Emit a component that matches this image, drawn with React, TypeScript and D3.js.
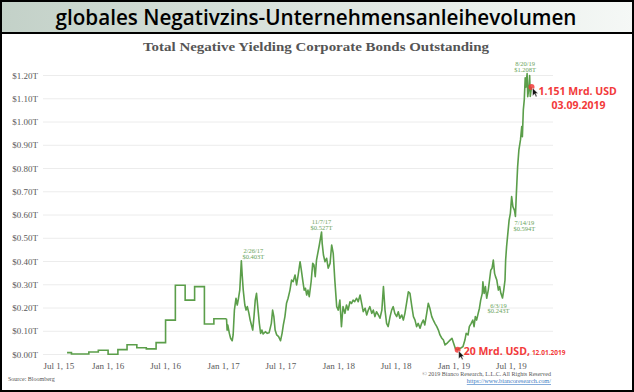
import * as d3 from 'd3'

// monthly steps (early part of the series)
const STEP_SERIES: [string, number][] = [
  ['2015-08-24', 0.008], ['2015-09-07', 0.002], ['2015-11-01', 0.011], ['2015-12-01', 0.018],
  ['2016-01-01', 0.001], ['2016-02-01', 0.021], ['2016-03-01', 0.042], ['2016-04-01', 0.029],
  ['2016-05-01', 0.024], ['2016-06-01', 0.051], ['2016-07-01', 0.148], ['2016-08-01', 0.298],
  ['2016-09-01', 0.234], ['2016-10-01', 0.292], ['2016-11-01', 0.131], ['2016-12-01', 0.154],
  ['2017-01-10', 0.154],
]

// daily-ish part
const DAILY_SERIES: [string, number][] = [
  ['2017-01-10', 0.154], ['2017-01-12', 0.105], ['2017-01-14', 0.127], ['2017-01-19', 0.091],
  ['2017-01-23', 0.070], ['2017-01-28', 0.059], ['2017-01-31', 0.084], ['2017-02-04', 0.191],
  ['2017-02-09', 0.242], ['2017-02-13', 0.213], ['2017-02-17', 0.242], ['2017-02-21', 0.277],
  ['2017-02-26', 0.403], ['2017-03-01', 0.335], ['2017-03-04', 0.277], ['2017-03-09', 0.213],
  ['2017-03-13', 0.191], ['2017-03-17', 0.206], ['2017-03-22', 0.177], ['2017-03-26', 0.148],
  ['2017-03-30', 0.127], ['2017-04-03', 0.105], ['2017-04-07', 0.163], ['2017-04-11', 0.234],
  ['2017-04-15', 0.263], ['2017-04-20', 0.191], ['2017-04-24', 0.134], ['2017-04-28', 0.091],
  ['2017-05-02', 0.105], ['2017-05-06', 0.088], ['2017-05-13', 0.098], ['2017-05-19', 0.091],
  ['2017-05-25', 0.094], ['2017-06-01', 0.134], ['2017-06-05', 0.191], ['2017-06-09', 0.163],
  ['2017-06-13', 0.105], ['2017-06-18', 0.084], ['2017-06-24', 0.077], ['2017-06-30', 0.059],
  ['2017-07-05', 0.091], ['2017-07-09', 0.127], ['2017-07-14', 0.163], ['2017-07-19', 0.220],
  ['2017-07-24', 0.242], ['2017-07-30', 0.277], ['2017-08-04', 0.320], ['2017-08-09', 0.313],
  ['2017-08-15', 0.342], ['2017-08-20', 0.299], ['2017-08-25', 0.342], ['2017-08-31', 0.399],
  ['2017-09-04', 0.363], ['2017-09-09', 0.313], ['2017-09-13', 0.277], ['2017-09-17', 0.285],
  ['2017-09-21', 0.256], ['2017-09-25', 0.277], ['2017-09-29', 0.249], ['2017-10-05', 0.313],
  ['2017-10-10', 0.392], ['2017-10-14', 0.385], ['2017-10-18', 0.335], ['2017-10-22', 0.406],
  ['2017-10-26', 0.435], ['2017-10-31', 0.471], ['2017-11-07', 0.527], ['2017-11-09', 0.478],
  ['2017-11-13', 0.428], ['2017-11-18', 0.399], ['2017-11-23', 0.414], ['2017-11-28', 0.371],
  ['2017-12-04', 0.392], ['2017-12-09', 0.471], ['2017-12-14', 0.435], ['2017-12-19', 0.320],
  ['2017-12-25', 0.206], ['2017-12-30', 0.191], ['2018-01-04', 0.234], ['2018-01-09', 0.120],
  ['2018-01-14', 0.206], ['2018-01-20', 0.177], ['2018-01-25', 0.213], ['2018-01-30', 0.191],
  ['2018-02-05', 0.227], ['2018-02-10', 0.220], ['2018-02-15', 0.234], ['2018-02-20', 0.227],
  ['2018-02-26', 0.242], ['2018-03-03', 0.227], ['2018-03-09', 0.256], ['2018-03-14', 0.220],
  ['2018-03-19', 0.184], ['2018-03-25', 0.199], ['2018-03-30', 0.170], ['2018-04-04', 0.191],
  ['2018-04-09', 0.206], ['2018-04-15', 0.177], ['2018-04-20', 0.191], ['2018-04-25', 0.163],
  ['2018-04-30', 0.184], ['2018-05-06', 0.170], ['2018-05-11', 0.156], ['2018-05-17', 0.191],
  ['2018-05-22', 0.292], ['2018-05-27', 0.191], ['2018-06-01', 0.134], ['2018-06-06', 0.120],
  ['2018-06-12', 0.163], ['2018-06-17', 0.191], ['2018-06-22', 0.206], ['2018-06-27', 0.177],
  ['2018-07-03', 0.163], ['2018-07-08', 0.184], ['2018-07-13', 0.156], ['2018-07-19', 0.170],
  ['2018-07-24', 0.148], ['2018-07-29', 0.177], ['2018-08-04', 0.227], ['2018-08-09', 0.270],
  ['2018-08-14', 0.263], ['2018-08-20', 0.206], ['2018-08-25', 0.163], ['2018-08-30', 0.148],
  ['2018-09-04', 0.120], ['2018-09-09', 0.134], ['2018-09-15', 0.113], ['2018-09-20', 0.134],
  ['2018-09-25', 0.148], ['2018-09-30', 0.127], ['2018-10-06', 0.177], ['2018-10-11', 0.220],
  ['2018-10-16', 0.199], ['2018-10-22', 0.163], ['2018-10-27', 0.148], ['2018-11-01', 0.134],
  ['2018-11-07', 0.120], ['2018-11-12', 0.105], ['2018-11-17', 0.084], ['2018-11-23', 0.070],
  ['2018-11-28', 0.062], ['2018-12-03', 0.041], ['2018-12-09', 0.048], ['2018-12-14', 0.055],
  ['2018-12-19', 0.062], ['2018-12-25', 0.070], ['2019-01-05', 0.025], ['2019-01-12', 0.020],
  ['2019-01-16', 0.025], ['2019-01-22', 0.028], ['2019-01-29', 0.034], ['2019-02-04', 0.062],
  ['2019-02-08', 0.091], ['2019-02-14', 0.084], ['2019-02-18', 0.120], ['2019-02-24', 0.134],
  ['2019-03-01', 0.148], ['2019-03-05', 0.120], ['2019-03-09', 0.163], ['2019-03-13', 0.148],
  ['2019-03-18', 0.177], ['2019-03-22', 0.199], ['2019-03-26', 0.234], ['2019-03-31', 0.263],
  ['2019-04-02', 0.313], ['2019-04-06', 0.263], ['2019-04-10', 0.292], ['2019-04-14', 0.242],
  ['2019-04-19', 0.277], ['2019-04-23', 0.320], ['2019-04-27', 0.363], ['2019-05-01', 0.371],
  ['2019-05-05', 0.406], ['2019-05-09', 0.349], ['2019-05-12', 0.335], ['2019-05-16', 0.320],
  ['2019-05-21', 0.277], ['2019-05-25', 0.292], ['2019-05-29', 0.263], ['2019-06-03', 0.243],
  ['2019-06-07', 0.277], ['2019-06-11', 0.320], ['2019-06-13', 0.406], ['2019-06-16', 0.464],
  ['2019-06-20', 0.521], ['2019-06-24', 0.578], ['2019-06-28', 0.607], ['2019-07-02', 0.679],
  ['2019-07-06', 0.636], ['2019-07-11', 0.620], ['2019-07-14', 0.594], ['2019-07-17', 0.693],
  ['2019-07-21', 0.808], ['2019-07-25', 0.880], ['2019-07-30', 0.923], ['2019-08-03', 0.980],
  ['2019-08-05', 0.937], ['2019-08-08', 1.052], ['2019-08-11', 1.095], ['2019-08-14', 1.190],
  ['2019-08-16', 1.150], ['2019-08-20', 1.208], ['2019-08-22', 1.109], ['2019-08-26', 1.152],
  ['2019-08-28', 1.200], ['2019-08-30', 1.110], ['2019-09-03', 1.151],
]

const X_TICKS = ['2015-07-01', '2016-01-01', '2016-07-01', '2017-01-01', '2017-07-01',
  '2018-01-01', '2018-07-01', '2019-01-01', '2019-07-01']
const Y_TICKS = [0, 0.1, 0.2, 0.3, 0.4, 0.5, 0.6, 0.7, 0.8, 0.9, 1.0, 1.1, 1.2]

// green labelled points
const MARKED: [string, number][] = [
  ['2017-02-26', 0.403], ['2017-11-07', 0.527], ['2019-06-03', 0.243],
  ['2019-07-14', 0.594], ['2019-08-20', 1.208],
]
// label offsets (dx, first-line dy) per marked point
const MARK_OFFSETS: [number, number][] = [[12, -7.5], [0, -7.5], [-4, 9.5], [9, 9], [-2, -7.5]]

const LAST_POINT: [string, number] = ['2019-09-03', 1.151]
const LOW_POINT: [string, number] = ['2019-01-12', 0.02]

const parse = d3.timeParse('%Y-%m-%d')
const W = 634
const H = 392
const GREEN = '#5b9e4a'
const RED = '#f23a3a'
const SERIF = '"Liberation Serif", "DejaVu Serif", serif'
const SANS = '"Open Sans", "Noto Sans", sans-serif'

function Cursor({ x, y }: { x: number; y: number }) {
  return (
    <path
      transform={`translate(${x},${y})`}
      d="M0,0 L0,8 L2,6.2 L3.4,9 L4.6,8.4 L3.2,5.7 L5.6,5.7 Z"
      fill="#111" stroke="#fff" strokeWidth={0.5}
    />
  )
}

export default function App() {
  const x = d3.scaleTime()
    .domain([parse('2015-07-01')!, parse('2019-11-10')!])
    .range([50, 553])
  const y = d3.scaleLinear().domain([0, 1.2]).range([354.5, 75.5])

  const stepLine = d3.line<[string, number]>()
    .x(d => x(parse(d[0])!))
    .y(d => y(d[1]))
    .curve(d3.curveStepAfter)
  const dailyLine = d3.line<[string, number]>()
    .x(d => x(parse(d[0])!))
    .y(d => y(d[1]))

  const fmtX = d3.timeFormat('%b %-d, %y')
  const fmtMark = d3.timeFormat('%-m/%-d/%y')

  const lx = x(parse(LAST_POINT[0])!)
  const ly = y(LAST_POINT[1])
  const mx = x(parse(LOW_POINT[0])!)
  const my = y(LOW_POINT[1])

  return (
    <svg width={W} height={H} style={{ position: 'absolute', left: 0, top: 0, background: '#fff' }}>
      <defs>
        <linearGradient id="hdr" x1="0" x2="1" y1="0" y2="0">
          <stop offset="0" stopColor="#c3d1c8" />
          <stop offset="1" stopColor="#f5f8f6" />
        </linearGradient>
      </defs>

      {/* header band */}
      <rect x={0} y={0} width={W} height={33} fill="url(#hdr)" />
      <text x={316} y={25} textAnchor="middle" fontFamily={SANS} fontSize={22} fontWeight={600}
        textLength={521} lengthAdjust="spacingAndGlyphs" fill="#000">
        globales Negativzins-Unternehmensanleihevolumen
      </text>
      <line x1={0} x2={W} y1={33} y2={33} stroke="#000" strokeWidth={2} />

      {/* chart title */}
      <text x={316} y={51} textAnchor="middle" fontFamily={SERIF} fontWeight="bold" fontSize={13}
        textLength={346} lengthAdjust="spacingAndGlyphs" fill="#555">
        Total Negative Yielding Corporate Bonds Outstanding
      </text>

      {/* grid + y labels */}
      {Y_TICKS.map(t => (
        <g key={t}>
          <line x1={43} x2={553} y1={y(t)} y2={y(t)} stroke="#ececec" strokeWidth={1} />
          <text x={38} y={y(t) + 3} textAnchor="end" fontFamily={SERIF} fontSize={9} fill="#595959">
            {`$${d3.format('.2f')(t)}T`}
          </text>
        </g>
      ))}

      {/* x labels */}
      {X_TICKS.map((t, i) => (
        <text key={t} x={x(parse(t)!) + (i === 0 ? 9 : 0)} y={369} textAnchor="middle"
          fontFamily={SERIF} fontSize={9} fill="#595959">
          {fmtX(parse(t)!)}
        </text>
      ))}

      {/* series */}
      <path d={stepLine(STEP_SERIES) ?? ''} fill="none" stroke={GREEN} strokeWidth={1.6} />
      <path d={dailyLine(DAILY_SERIES) ?? ''} fill="none" stroke={GREEN} strokeWidth={1.6}
        strokeLinejoin="round" />

      {/* marked points */}
      {MARKED.map((m, i) => {
        const px = x(parse(m[0])!) + MARK_OFFSETS[i][0]
        const py = y(m[1]) + MARK_OFFSETS[i][1]
        return (
          <g key={m[0]} fontFamily={SERIF} fontSize={6.5} fill="#6aa35a" textAnchor="middle">
            <text x={px} y={py}>{fmtMark(parse(m[0])!)}</text>
            <text x={px} y={py + 5.8}>{`$${d3.format('.3f')(m[1])}T`}</text>
          </g>
        )
      })}

      {/* red notes */}
      <circle cx={lx} cy={ly} r={3} fill={RED} opacity={0.85} />
      <Cursor x={lx + 1} y={ly + 1} />
      <text x={lx + 7} y={ly + 8.5} fontFamily={SANS} fontWeight="bold" fontSize={10.5} fill={RED}>
        1.151 Mrd. USD
      </text>
      <text x={lx + 47} y={ly + 22} textAnchor="middle" fontFamily={SANS} fontWeight="bold"
        fontSize={10.5} fill={RED}>
        03.09.2019
      </text>

      <circle cx={mx} cy={my} r={3} fill={RED} opacity={0.85} />
      <Cursor x={mx + 1} y={my + 1} />
      <text x={mx + 6} y={my + 5} fontFamily={SANS} fontWeight="bold" fontSize={10.5} fill={RED}>
        20 Mrd. USD,
        <tspan fontSize={6.5} dx={2}>12.01.2019</tspan>
      </text>

      {/* footer */}
      <text x={8} y={381} fontFamily={SERIF} fontSize={6} fill="#555">Source: Bloomberg</text>
      <text x={551} y={376} textAnchor="end" fontFamily={SERIF} fontSize={6} fill="#555">
        © 2019 Bianco Research, L.L.C. All Rights Reserved
      </text>
      <text x={551} y={383} textAnchor="end" fontFamily={SERIF} fontSize={6.3} fill="#3d7cc4"
        textDecoration="underline">
        https://www.biancoresearch.com/
      </text>

      {/* outer frame */}
      <rect x={1} y={1} width={W - 2} height={H - 2} fill="none" stroke="#000" strokeWidth={2} />
    </svg>
  )
}
